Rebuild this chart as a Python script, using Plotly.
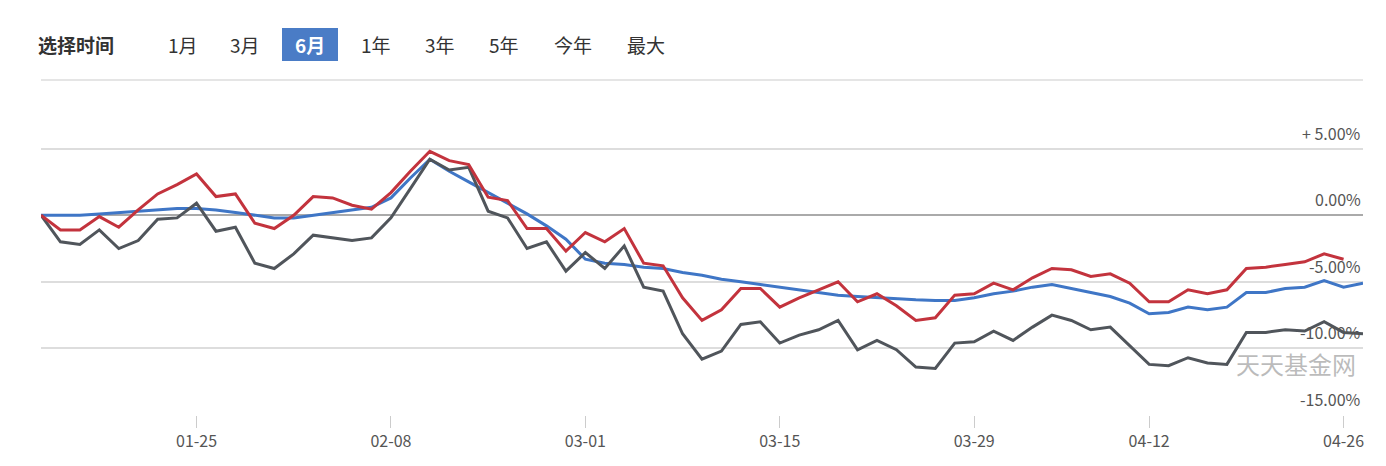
import plotly.graph_objects as go
import pandas as pd

# trading days 2021-01-13 .. 2021-04-27 (CNY 02-11..02-17 and 04-05 closed)
days = pd.bdate_range("2021-01-13", "2021-04-27")
holidays = pd.to_datetime(["2021-02-11", "2021-02-12", "2021-02-15", "2021-02-16", "2021-02-17", "2021-04-05"])
dates = [d.strftime("%m-%d") for d in days if d not in holidays]

red = [0, -1.1, -1.1, -0.1, -0.9, 0.4, 1.6, 2.3, 3.1, 1.4, 1.6, -0.6, -1.0, 0, 1.4, 1.3, 0.75, 0.45, 1.7, 3.3,
       4.8, 4.1, 3.8, 1.35, 1.1, -1.0, -1.0, -2.7, -1.3, -2.0, -1.0, -3.6, -3.8, -6.2, -7.9, -7.1, -5.5, -5.5, -6.9, -6.2,
       -5.6, -5.0, -6.5, -5.9, -6.8, -7.9, -7.7, -6.0, -5.9, -5.1, -5.6, -4.7, -4.0, -4.1, -4.6, -4.4, -5.1, -6.5, -6.5, -5.6,
       -5.9, -5.6, -4.0, -3.9, -3.7, -3.5, -2.9, -3.3, None]
blue = [0, 0, 0, 0.1, 0.2, 0.3, 0.4, 0.5, 0.5, 0.4, 0.2, 0.0, -0.2, -0.2, 0.0, 0.2, 0.4, 0.6, 1.3, 2.8,
        4.2, 3.3, 2.5, 1.7, 0.9, 0.1, -0.8, -1.8, -3.3, -3.6, -3.7, -3.9, -4.0, -4.3, -4.5, -4.8, -5.0, -5.2, -5.4, -5.6,
        -5.8, -6.0, -6.1, -6.2, -6.3, -6.35, -6.4, -6.4, -6.2, -5.9, -5.7, -5.4, -5.2, -5.5, -5.8, -6.1, -6.6, -7.4, -7.3, -6.9,
        -7.1, -6.9, -5.8, -5.8, -5.5, -5.4, -4.9, -5.4, -5.1]
gray = [0, -2.0, -2.2, -1.1, -2.5, -1.9, -0.3, -0.2, 0.9, -1.2, -0.9, -3.6, -4.0, -2.9, -1.5, -1.7, -1.9, -1.7, -0.2, 2.0,
        4.2, 3.4, 3.6, 0.3, -0.2, -2.5, -2.0, -4.2, -2.8, -4.0, -2.3, -5.4, -5.7, -8.9, -10.8, -10.2, -8.2, -8.0, -9.6, -9.0,
        -8.6, -7.9, -10.1, -9.4, -10.1, -11.4, -11.5, -9.6, -9.5, -8.7, -9.4, -8.4, -7.5, -7.9, -8.6, -8.4, -9.8, -11.2, -11.3, -10.7,
        -11.1, -11.2, -8.8, -8.8, -8.6, -8.7, -8.0, -8.8, -8.9]

tick_dates = ["01-25", "02-08", "03-01", "03-15", "03-29", "04-12", "04-26"]
y_ticks = [5, 0, -5, -10, -15]
y_labels = ["+ 5.00%", "0.00%", "-5.00%", "-10.00%", "-15.00%"]
buttons = ["1月", "3月", "6月", "1年", "3年", "5年", "今年", "最大"]

W, H, L, R, T, B = 1386, 466, 33, 31, 114, 59
PW, PH = W - L - R, H - T - B
px = lambda x: (x - L) / PW
py = lambda y: 1 + (T - y) / PH

x_idx = list(range(len(dates)))
fig = go.Figure()
for ys, c in [(blue, "#3f76c6"), (gray, "#50555b"), (red, "#c3333d")]:
    fig.add_trace(go.Scatter(x=x_idx, y=ys, mode="lines", line=dict(color=c, width=3), hoverinfo="skip"))

FONT = "Noto Sans CJK SC"
fig.update_layout(
    width=W, height=H, margin=dict(l=L, r=R, t=T, b=B, autoexpand=False),
    paper_bgcolor="white", plot_bgcolor="white", showlegend=False,
    font=dict(family=FONT, color="#444"),
    xaxis=dict(range=[0, len(dates) - 1], tickvals=[dates.index(d) for d in tick_dates], ticktext=tick_dates,
               showgrid=False, zeroline=False, ticks="outside", ticklen=12, tickcolor="#ccc", automargin=False,
               tickfont=dict(size=16, color="#555"), showline=False),
    yaxis=dict(range=[-15, 7], tickvals=y_ticks, showticklabels=False, gridcolor="#ddd", gridwidth=1.5,
               automargin=False, zeroline=True, zerolinecolor="#aaa", zerolinewidth=2),
)
for v, t in zip(y_ticks, y_labels):
    fig.add_annotation(x=1, y=v, xref="paper", yref="y", text=t, showarrow=False, xanchor="right", yanchor="bottom",
                       yshift=2, font=dict(size=16, color="#555"))
fig.add_annotation(x=1, y=-11.1, xref="paper", yref="y", text="天天基金网", showarrow=False, xanchor="right",
                   xshift=-5, font=dict(size=24, color="rgba(120,120,120,0.5)"))

# header
fig.add_shape(type="rect", xref="paper", yref="paper", x0=px(274), x1=px(330), y0=py(53), y1=py(20),
              fillcolor="#4a7cc6", line=dict(width=0), layer="below")
fig.add_shape(type="line", xref="paper", yref="paper", x0=px(33), x1=px(1355), y0=py(72), y1=py(72),
              line=dict(color="#ddd", width=1.5))
fig.add_annotation(x=px(28), y=py(36), xref="paper", yref="paper", text="<b>选择时间</b>", showarrow=False,
                   xanchor="left", yanchor="middle", font=dict(size=19, color="#333"))
bx = [175, 237, 302, 368, 432, 496, 565, 638]
for b, x in zip(buttons, bx):
    sel = b == "6月"
    fig.add_annotation(x=px(x), y=py(36), xref="paper", yref="paper", text=("<b>%s</b>" % b) if sel else b,
                       showarrow=False, xanchor="center", yanchor="middle",
                       font=dict(size=19, color="white" if sel else "#333"))

fig.write_html("out.html")
